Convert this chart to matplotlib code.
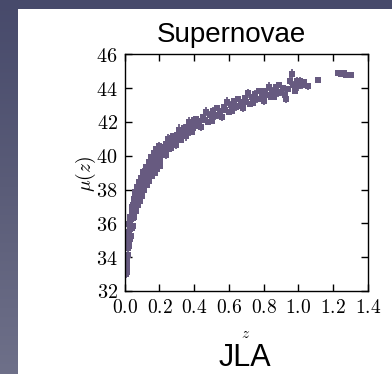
import numpy as np
import matplotlib
matplotlib.use("Agg")
import matplotlib.pyplot as plt
from matplotlib.ticker import FuncFormatter
from matplotlib.colors import LinearSegmentedColormap

plt.rcParams['mathtext.fontset'] = 'cm'

# ---- data: redshift, distance modulus, error ----
z = [0.010, 0.011, 0.012, 0.013, 0.014, 0.015, 0.016, 0.017, 0.018, 0.019,
     0.020, 0.021, 0.022, 0.023, 0.024, 0.025, 0.026, 0.027, 0.028, 0.029,
     0.030, 0.032, 0.033, 0.035, 0.036, 0.038, 0.040, 0.042, 0.044, 0.046,
     0.048, 0.050, 0.052, 0.054, 0.056, 0.058, 0.060, 0.063, 0.065, 0.068,
     0.070, 0.073, 0.075, 0.078, 0.080, 0.083, 0.085, 0.088, 0.090, 0.093,
     0.095, 0.098,
     0.100, 0.105, 0.110, 0.115, 0.120, 0.125, 0.130, 0.135, 0.140, 0.145,
     0.150, 0.155, 0.160, 0.165, 0.170, 0.175, 0.180, 0.185, 0.190, 0.195,
     0.200, 0.205, 0.210, 0.215, 0.220, 0.225, 0.230, 0.235, 0.240, 0.245,
     0.250, 0.255, 0.260, 0.265, 0.270, 0.275, 0.280, 0.285, 0.290, 0.295,
     0.300, 0.305, 0.310, 0.315, 0.320, 0.325, 0.330, 0.335, 0.340, 0.345,
     0.350, 0.355, 0.360, 0.365, 0.370, 0.375, 0.380, 0.385, 0.390, 0.395,
     0.400,
     0.41, 0.42, 0.43, 0.44, 0.45, 0.46, 0.47, 0.48, 0.49, 0.50,
     0.51, 0.52, 0.53, 0.54, 0.55, 0.56, 0.57, 0.58, 0.59, 0.60,
     0.61, 0.62, 0.63, 0.64, 0.65, 0.66, 0.67, 0.68, 0.69, 0.70,
     0.71, 0.72, 0.73, 0.74, 0.75, 0.76, 0.77, 0.78, 0.79, 0.80,
     0.81, 0.82, 0.83, 0.84, 0.85, 0.86, 0.87, 0.88, 0.89, 0.90,
     0.91, 0.92, 0.93, 0.94, 0.95, 0.96, 0.97, 0.98, 0.99, 1.00,
     1.01, 1.02, 1.03, 1.055, 1.115, 1.23, 1.245, 1.26, 1.275, 1.29, 1.30,
     0.031, 0.041, 0.051, 0.062, 0.072, 0.082, 0.092, 0.107, 0.122, 0.137,
     0.152, 0.167, 0.182, 0.197,
     0.034, 0.045, 0.055, 0.066, 0.077, 0.087, 0.097, 0.112, 0.127, 0.142,
     0.157, 0.172, 0.187, 0.202]

mu = [33.00, 33.50, 33.10, 34.10, 33.85, 34.65, 33.90, 34.55, 34.10, 35.00,
      34.60, 35.25, 34.75, 35.15, 34.65, 35.50, 35.20, 35.95, 35.10, 35.70,
      35.20, 36.10, 35.65, 36.35, 35.80, 36.25, 35.75, 36.65, 36.35, 37.10,
      36.30, 36.90, 36.45, 37.25, 36.85, 37.50, 36.95, 37.35, 36.85, 37.75,
      37.40, 38.15, 37.30, 37.90, 37.40, 38.25, 37.80, 38.40, 37.85, 38.20,
      37.65, 38.55,
      38.60, 38.25, 38.55, 38.25, 38.90, 38.75, 39.30, 38.75, 39.20, 38.90,
      39.55, 39.28, 39.75, 39.37, 39.65, 39.33, 39.95, 39.77, 40.28, 39.69,
      40.10, 39.76, 40.37, 40.08, 40.54, 40.15, 40.41, 40.07, 40.68, 40.49,
      41.00, 40.40, 40.79, 40.44, 41.03, 40.73, 41.17, 40.77, 41.01, 40.66,
      41.25, 41.04, 41.53, 40.92, 41.31, 40.95, 41.54, 41.23, 41.67, 41.26,
      41.50, 41.14, 41.72, 41.51, 41.99, 41.38, 41.76, 41.40, 41.98, 41.67,
      42.10,
      42.16, 41.77, 42.03, 41.69, 42.30, 42.10, 42.60, 42.00, 42.40, 42.05,
      42.65, 42.35, 42.80, 42.40, 42.65, 42.30, 42.90, 42.70, 43.20, 42.60,
      42.99, 42.63, 43.22, 42.91, 43.35, 42.94, 43.18, 42.82, 43.41, 43.20,
      43.69, 43.07, 43.46, 43.09, 43.68, 43.36, 43.80, 43.38, 43.62, 43.25,
      43.83, 43.61, 44.09, 43.47, 43.85, 43.48, 44.06, 43.74, 44.17, 43.75,
      43.98, 43.61, 43.35, 43.97, 44.45, 44.85, 44.21, 43.84, 44.42, 44.10,
      44.45, 44.20, 44.35, 44.10, 44.50, 44.90, 44.82, 44.88, 44.78, 44.80, 44.75,
      36.35, 36.95, 37.45, 37.85, 38.15, 38.45, 38.70, 39.05, 39.35, 39.65,
      39.95, 40.15, 40.40, 40.60,
      35.25, 35.85, 36.35, 36.75, 37.10, 37.35, 37.60, 37.95, 38.25, 38.50,
      38.80, 39.00, 39.20, 39.40]

err = [0.22, 0.18, 0.28, 0.15, 0.20, 0.25, 0.17, 0.30, 0.19, 0.23, 0.16, 0.26,
       0.22, 0.18, 0.28, 0.15, 0.20, 0.25, 0.17, 0.30, 0.19, 0.23, 0.16, 0.26,
       0.22, 0.18, 0.28, 0.15, 0.20, 0.25, 0.17, 0.30, 0.19, 0.23, 0.16, 0.26,
       0.22, 0.18, 0.28, 0.15, 0.20, 0.25, 0.17, 0.30, 0.19, 0.23, 0.16, 0.26,
       0.22, 0.18, 0.28, 0.15,
       0.18, 0.22, 0.15, 0.26, 0.20, 0.17, 0.30, 0.19, 0.24, 0.16, 0.21, 0.28,
       0.18, 0.22, 0.15, 0.26, 0.20, 0.17, 0.30, 0.19, 0.24, 0.16, 0.21, 0.28,
       0.18, 0.22, 0.15, 0.26, 0.20, 0.17, 0.30, 0.19, 0.24, 0.16, 0.21, 0.28,
       0.18, 0.22, 0.15, 0.26, 0.20, 0.17, 0.35, 0.19, 0.24, 0.16, 0.21, 0.28,
       0.18, 0.22, 0.15, 0.26, 0.20, 0.17, 0.30, 0.19, 0.24, 0.16, 0.21, 0.28,
       0.18,
       0.15, 0.20, 0.13, 0.24, 0.18, 0.16, 0.27, 0.19, 0.22, 0.14, 0.21, 0.25,
       0.15, 0.20, 0.13, 0.24, 0.18, 0.16, 0.27, 0.19, 0.22, 0.14, 0.21, 0.25,
       0.15, 0.20, 0.13, 0.24, 0.18, 0.16, 0.27, 0.19, 0.22, 0.14, 0.21, 0.25,
       0.15, 0.20, 0.13, 0.24, 0.18, 0.16, 0.27, 0.19, 0.22, 0.14, 0.21, 0.25,
       0.15, 0.20, 0.13, 0.24, 0.25, 0.16, 0.27, 0.30, 0.22, 0.14, 0.21, 0.25,
       0.22, 0.25, 0.20, 0.22, 0.14, 0.10, 0.10, 0.10, 0.10, 0.10, 0.10,
       0.18, 0.20, 0.16, 0.22, 0.18, 0.20, 0.17, 0.21, 0.18, 0.20,
       0.17, 0.22, 0.18, 0.20,
       0.18, 0.20, 0.16, 0.22, 0.18, 0.20, 0.17, 0.21, 0.18, 0.20,
       0.17, 0.22, 0.18, 0.20]

x_ticks = [0.0, 0.2, 0.4, 0.6, 0.8, 1.0, 1.2, 1.4]
y_ticks = [32, 34, 36, 38, 40, 42, 44, 46]

W, H = 392, 374
fig = plt.figure(figsize=(W / 100, H / 100), dpi=100)

# slide background gradient
bg = fig.add_axes([0, 0, 1, 1], zorder=-10)
cmap = LinearSegmentedColormap.from_list('bg', ['#474a6b', '#5a5c78', '#6e7089'])
bg.imshow(np.linspace(0, 1, 256).reshape(-1, 1), aspect='auto', cmap=cmap,
          extent=[0, 1, 0, 1], origin='upper')
bg.axis('off')

# white panel
panel = fig.add_axes([18 / W, 0, 1 - 18 / W, 1 - 9 / H], zorder=-5)
panel.axis('off')
panel.add_patch(plt.Rectangle((0, 0), 1, 1, transform=panel.transAxes,
                              color='white'))

ax = fig.add_axes([124.7 / W, 1 - 291 / H, (368 - 124.7) / W, (291 - 54.3) / H])
ax.errorbar(z, mu, yerr=err, fmt='s', color='#675a80', ms=4.8, mew=0,
            elinewidth=1.3, capsize=2.5, capthick=1.3)
ax.set_xlim(0, 1.4)
ax.set_ylim(32, 46)
ax.set_xticks(x_ticks)
ax.set_yticks(y_ticks)
ax.xaxis.set_major_formatter(FuncFormatter(lambda v, p: r'$%.1f$' % v))
ax.yaxis.set_major_formatter(FuncFormatter(lambda v, p: r'$%d$' % v))
ax.tick_params(direction='in', length=5, width=1, top=True, right=True)
ax.tick_params(axis='x', labelsize=14, pad=5)
ax.tick_params(axis='y', labelsize=14.5, pad=5)
for s in ax.spines.values():
    s.set_linewidth(1.0)

fig.text(86 / W, 1 - 174 / H, r'$\mu(z)$', rotation=90, fontsize=14,
         ha='center', va='center')
fig.text(246 / W, 1 - 333 / H, r'$z$', fontsize=11, ha='center', va='center')
fig.text(231 / W, 1 - 35 / H, 'Supernovae', fontsize=20, family='Liberation Sans',
         ha='center', va='center')
fig.text(245 / W, 1 - 358 / H, 'JLA', fontsize=22, family='Liberation Sans',
         ha='center', va='center')

fig.savefig('out.png', dpi=100)
